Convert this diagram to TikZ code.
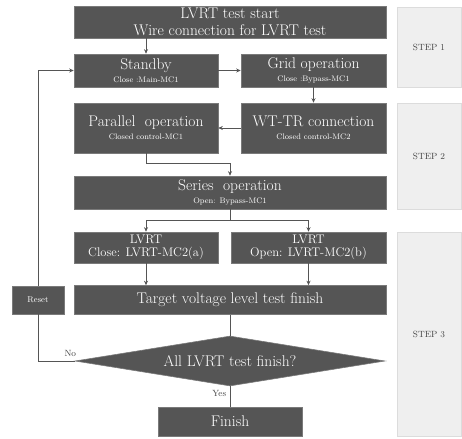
\documentclass[tikz,border=0pt]{standalone}
\usepackage{tikz}
\usetikzlibrary{arrows.meta, shapes, positioning, calc}
\definecolor{boxgray}{HTML}{555555}
\definecolor{boxedge}{HTML}{7A7A7A}
\definecolor{linegray}{HTML}{555555}
\definecolor{panelbg}{HTML}{EFEFEF}
\definecolor{paneledge}{HTML}{DCDCDC}
\definecolor{labelgray}{HTML}{444444}

\tikzset{
  procbox/.style={fill=boxgray, draw=boxedge, line width=0.6pt, text=white, align=center, inner sep=0pt},
  stepbox/.style={fill=panelbg, draw=paneledge, line width=0.8pt, text=labelgray, minimum width=64pt, font=\fontsize{9}{10}\selectfont},
  arr/.style={-{Stealth[length=4.5pt,width=4pt]}, line width=0.9pt, linegray},
  plain/.style={line width=0.9pt, linegray},
  big/.style={font=\fontsize{15.5}{16.5}\selectfont},
  tag/.style={text=labelgray, font=\fontsize{9}{10}\selectfont}
}
\newcommand{\twoline}[2]{{\fontsize{15.5}{16}\selectfont #1}\\[1pt]{\fontsize{8}{9}\selectfont #2}}

\begin{document}
\begin{tikzpicture}[x=1pt, y=-1pt]
  \useasboundingbox (0,0) rectangle (462,438);

  % Step panels on the right
  \node[stepbox, minimum height=80pt] (step1) at (429,47) {STEP 1};
  \node[stepbox, minimum height=106pt] (step2) at (429,156) {STEP 2};
  \node[stepbox, minimum height=204pt] (step3) at (429,334) {STEP 3};

  % Start and step 1 boxes
  \node[procbox, big, minimum width=312pt, minimum height=32pt] (start) at (230,22)
    {LVRT test start\\Wire connection for LVRT test};
  \node[procbox, minimum width=144pt, minimum height=33pt] (standby) at (146,70.5)
    {\twoline{Standby}{Close :Main-MC1}};
  \node[procbox, minimum width=145pt, minimum height=33pt] (grid) at (313.5,70.5)
    {\twoline{Grid operation}{Close :Bypass-MC1}};

  % Step 2 boxes
  \node[procbox, minimum width=144pt, minimum height=50pt] (parallel) at (146,128)
    {\twoline{Parallel\ \ operation}{Closed control-MC1}};
  \node[procbox, minimum width=145pt, minimum height=50pt] (wttr) at (313.5,128)
    {\twoline{WT-TR connection}{Closed control-MC2}};
  \node[procbox, minimum width=312pt, minimum height=33pt] (series) at (230,192.5)
    {\twoline{Series\ \ operation}{Open: Bypass-MC1}};

  % Step 3 boxes
  \node[procbox, font=\fontsize{12.5}{13}\selectfont, minimum width=144pt, minimum height=31pt] (lvrta) at (146,247.5)
    {LVRT\\Close: LVRT-MC2(a)};
  \node[procbox, font=\fontsize{12.5}{13}\selectfont, minimum width=155pt, minimum height=31pt] (lvrtb) at (308.5,247.5)
    {LVRT\\Open: LVRT-MC2(b)};
  \node[procbox, big, minimum width=312pt, minimum height=29pt] (target) at (230,300)
    {Target voltage level test finish};
  \node[procbox, font=\fontsize{8.5}{9}\selectfont, minimum width=52pt, minimum height=28pt] (reset) at (38,300) {Reset};
  \node[procbox, big, diamond, aspect=6.2, minimum width=310pt, minimum height=50pt] (check) at (230,361)
    {All LVRT test finish?};
  \node[procbox, big, minimum width=144pt, minimum height=29pt] (finish) at (230,421.5) {Finish};

  % Flow
  \draw[arr] (start.south -| standby.north) -- (standby.north);
  \draw[arr] (standby) -- (grid);
  \draw[arr] (grid) -- (wttr);
  \draw[arr] (wttr) -- (parallel);
  \draw[arr] (parallel.south) -- ++(0,10) -| (series.north);
  \draw[plain] (series.south) -- ++(0,11) coordinate (split);
  \draw[arr] (split) -| (lvrta.north);
  \draw[arr] (split) -| (lvrtb.north);
  \draw[arr] (lvrta) -- (lvrta |- target.north);
  \draw[arr] (lvrtb) -- (lvrtb |- target.north);
  \draw[plain] (target) -- (check);
  \draw[plain] (check) -- node[pos=0.35, left, tag] {Yes} (finish);

  % Reset loop
  \draw[plain] (check.west) -| node[pos=0.06, above, yshift=1pt, tag] {No} (reset.south);
  \draw[arr] (reset.north) |- (standby.west);
\end{tikzpicture}
\end{document}
